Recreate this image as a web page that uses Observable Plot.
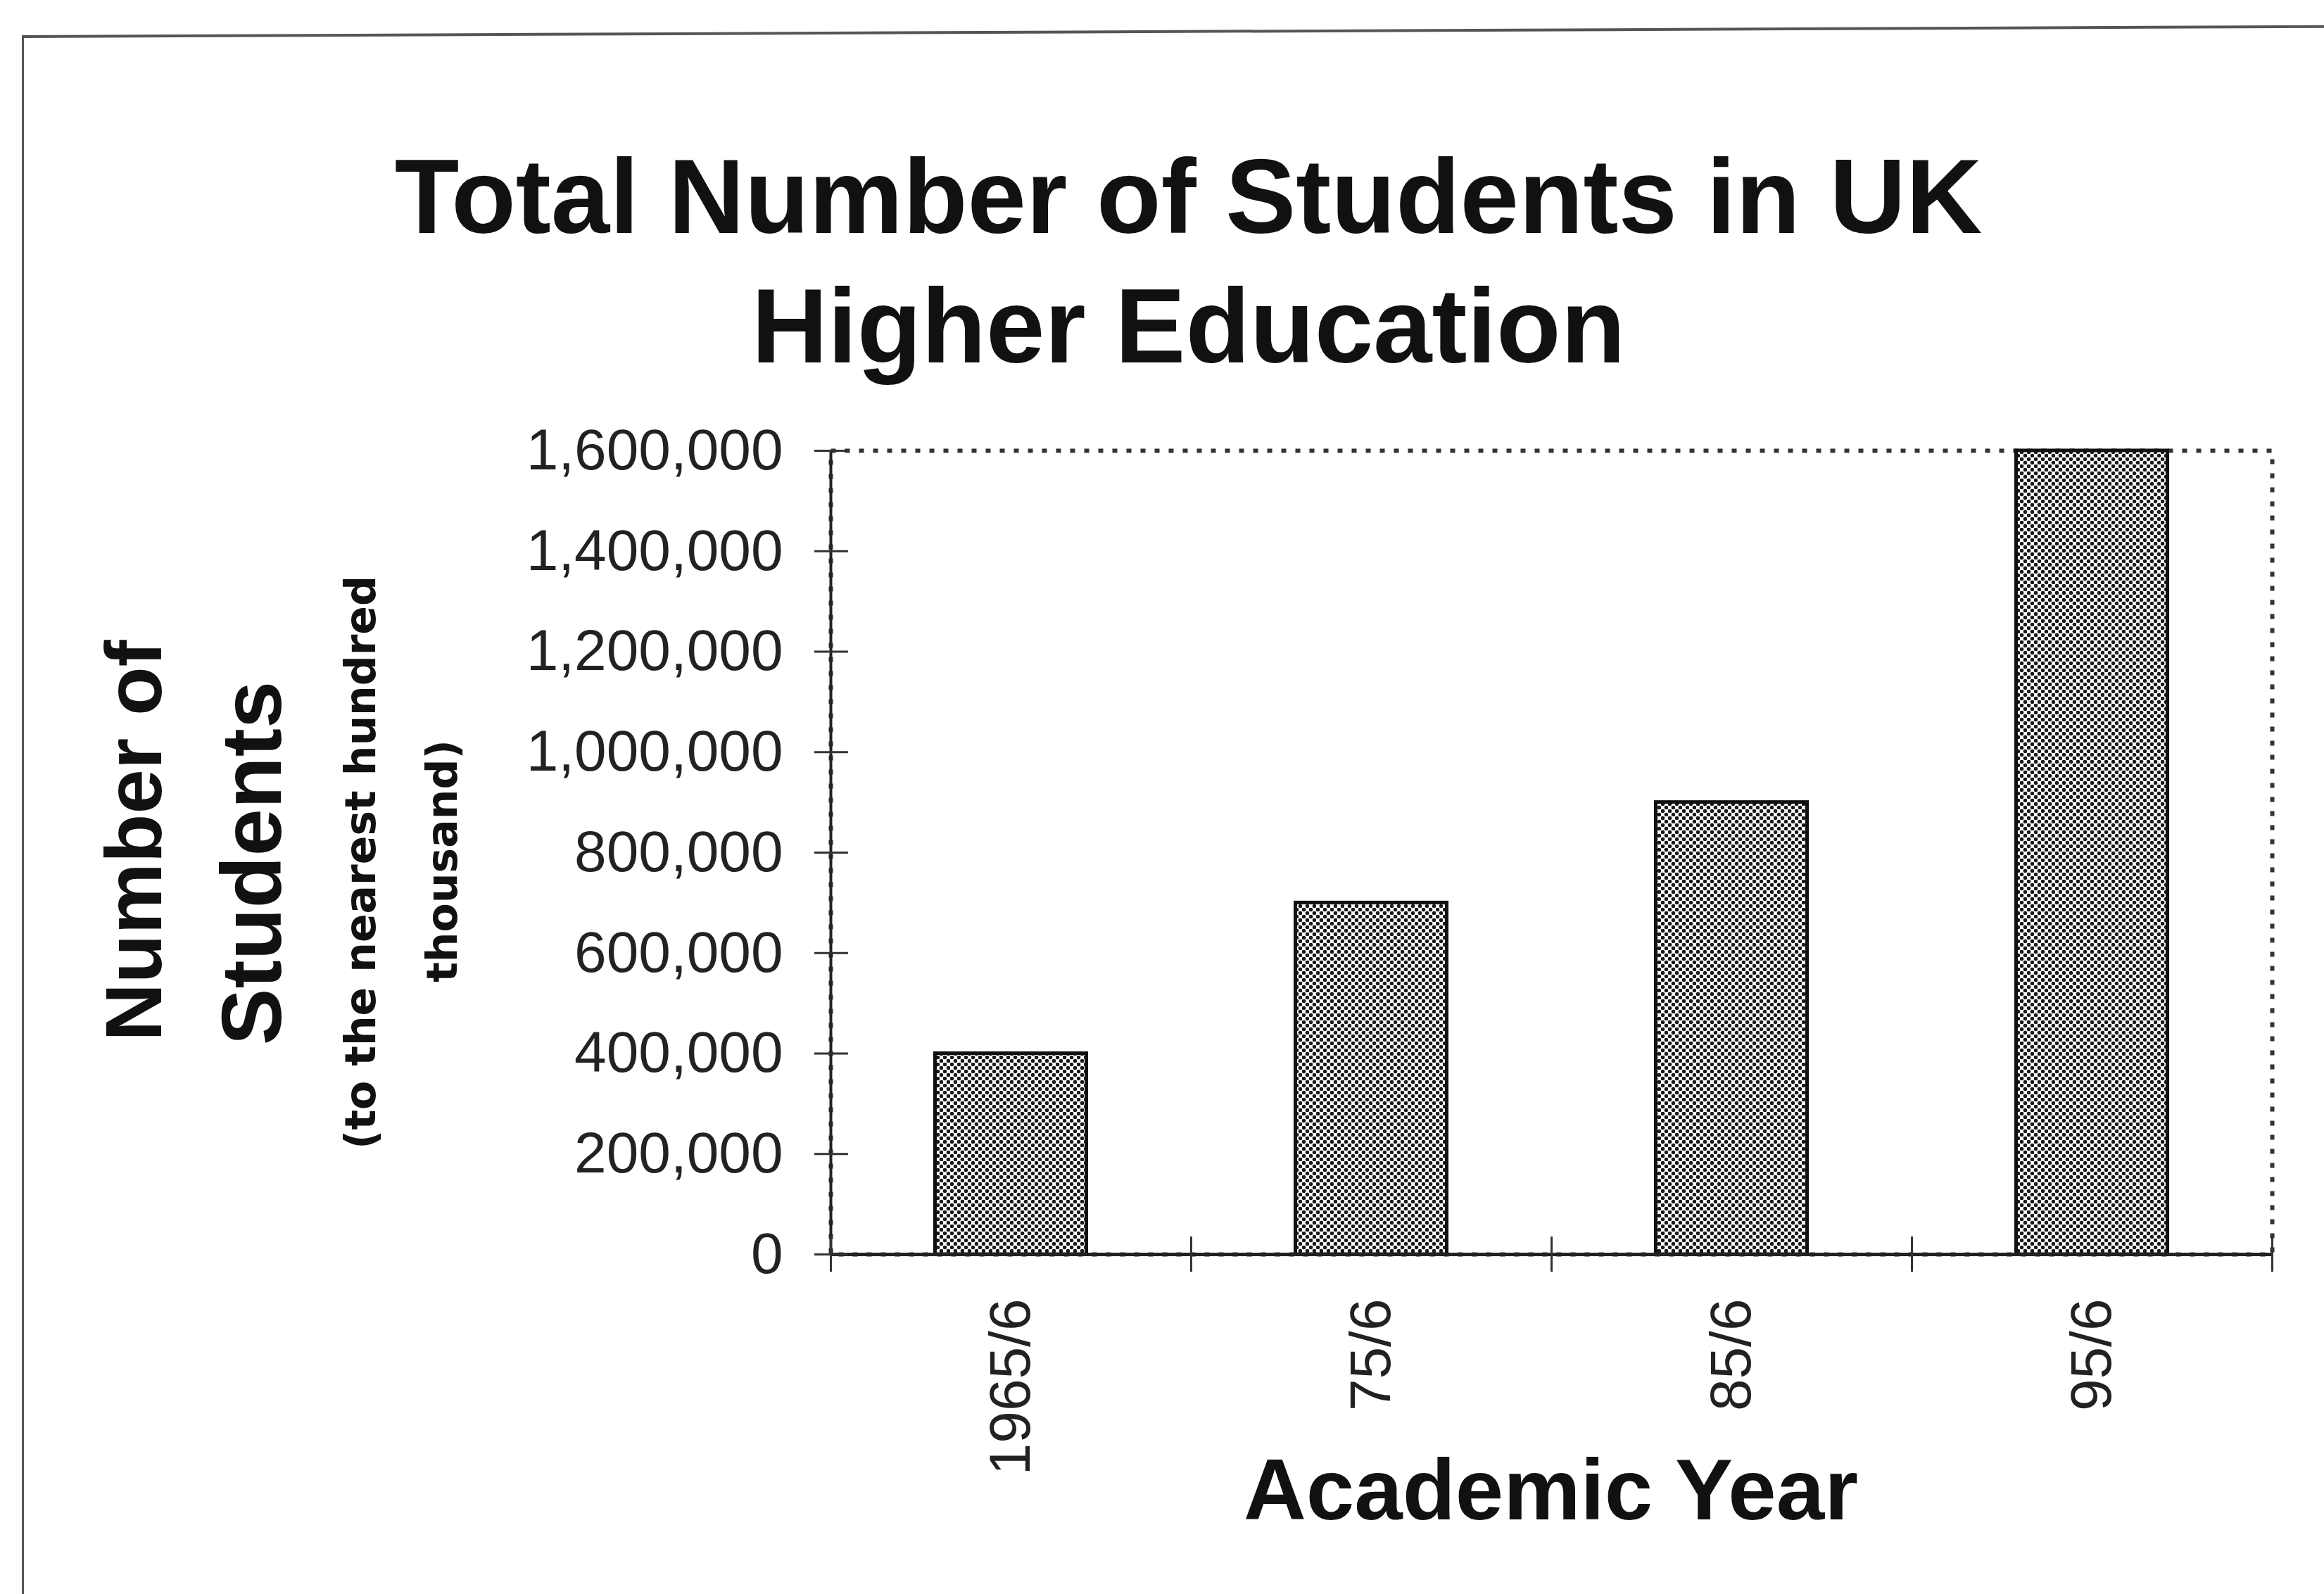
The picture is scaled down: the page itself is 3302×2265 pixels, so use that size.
<!DOCTYPE html>
<html>
<head>
<meta charset="utf-8">
<script src="https://cdn.jsdelivr.net/npm/d3@7"></script>
<script src="https://cdn.jsdelivr.net/npm/@observablehq/plot@0.6"></script>
<style>
  html, body { margin: 0; padding: 0; background: #fff; }
  #wrap { position: relative; width: 3302px; height: 2265px; overflow: hidden; background: #fff; }
  #wrap svg { position: absolute; left: 0; top: 0; }
  #topline { position: absolute; left: 31px; top: 50px; width: 3400px; height: 0; border-top: 4px solid #555; transform: rotate(-0.25deg); transform-origin: 0 0; }
  #leftline { position: absolute; left: 31px; top: 50px; width: 0; height: 2300px; border-left: 3px solid #555; }
</style>
</head>
<body>
<div id="wrap"></div>
<script>
// ---- data ----
const categories = ["1965/6", "75/6", "85/6", "95/6"];
const students = [400000, 700000, 900000, 1600000];
const yTicks = [0, 200000, 400000, 600000, 800000, 1000000, 1200000, 1400000, 1600000];
const titleLines = ["Total Number of Students in UK", "Higher Education"];
const yLabelLines = ["Number of", "Students"];
const yNoteLines = ["(to the nearest hundred", "thousand)"];
const xLabel = "Academic Year";

// ---- layout ----
const W = 3302, H = 2265;
const mL = 1180, mR = 74, mT = 640, mB = 483;
const at = (x, y) => ({frameAnchor: "top-left", dx: x - mL, dy: y - mT});

const data = categories.map((c, i) => ({category: c, i, value: students[i]}));
const boundaries = d3.range(categories.length + 1);

const boldFont = "'Liberation Sans', Arial, sans-serif";

const chart = Plot.plot({
  width: W,
  height: H,
  marginLeft: mL,
  marginRight: mR,
  marginTop: mT,
  marginBottom: mB,
  style: {fontFamily: "'Liberation Sans', Arial, sans-serif", fontSize: "82px", color: "#222", background: "transparent", overflow: "visible"},
  x: {type: "linear", domain: [0, categories.length]},
  y: {domain: [0, 1600000]},
  marks: [
    Plot.frame({stroke: "#333", strokeWidth: 6, strokeDasharray: "7,13"}),
    Plot.rectY(data, {x1: d => d.i + 0.29, x2: d => d.i + 0.71, y: "value", fill: "url(#dots)", stroke: "#111", strokeWidth: 5}),
    Plot.ruleY([0], {stroke: "#222", strokeWidth: 5}),
    Plot.ruleX([0], {stroke: "#222", strokeWidth: 4}),
    Plot.ruleY(yTicks, {y: d => d, x1: 0, x2: 0, insetLeft: -23, insetRight: -25, stroke: "#333", strokeWidth: 3}),
    Plot.ruleX(boundaries, {x: d => d, y1: 0, y2: 0, insetTop: -25, insetBottom: -25, stroke: "#333", strokeWidth: 3}),
    Plot.axisY({ticks: yTicks, tickSize: 0, tickPadding: 68, tickFormat: d3.format(","), label: null, fontSize: 82}),
    Plot.axisX({ticks: data.map(d => d.i + 0.5), tickSize: 0, tickPadding: 63, tickRotate: -90,
                tickFormat: v => categories[Math.floor(v)], label: null, fontSize: 82}),
    // title
    Plot.text([titleLines[0]], {text: d => d, ...at(1688, 330), textAnchor: "middle", lineAnchor: "bottom", fontSize: 150, fontWeight: "bold", fontFamily: boldFont, fill: "#111"}),
    Plot.text([titleLines[1]], {text: d => d, ...at(1688, 514), textAnchor: "middle", lineAnchor: "bottom", fontSize: 150, fontWeight: "bold", fontFamily: boldFont, fill: "#111"}),
    // y label
    Plot.text([yLabelLines[0]], {text: d => d, ...at(228, 1194), rotate: -90, textAnchor: "middle", lineAnchor: "bottom", fontSize: 114, fontWeight: "bold", fontFamily: boldFont, fill: "#111"}),
    Plot.text([yLabelLines[1]], {text: d => d, ...at(398, 1226), rotate: -90, textAnchor: "middle", lineAnchor: "bottom", fontSize: 121, fontWeight: "bold", fontFamily: boldFont, fill: "#111"}),
    Plot.text([yNoteLines[0]], {text: d => d, ...at(532, 1225), rotate: -90, textAnchor: "middle", lineAnchor: "bottom", fontSize: 60, fontWeight: "bold", fontFamily: "'DejaVu Sans', sans-serif", fill: "#111"}),
    Plot.text([yNoteLines[1]], {text: d => d, ...at(648, 1223), rotate: -90, textAnchor: "middle", lineAnchor: "bottom", fontSize: 60, fontWeight: "bold", fontFamily: "'DejaVu Sans', sans-serif", fill: "#111"}),
    // x label
    Plot.text([xLabel], {text: d => d, ...at(2203, 2158), textAnchor: "middle", lineAnchor: "bottom", fontSize: 123, fontWeight: "bold", fontFamily: boldFont, fill: "#111"})
  ]
});

// halftone dot pattern for the bars
const svgSel = d3.select(chart);
const defs = svgSel.insert("defs", ":first-child");
const pat = defs.append("pattern").attr("id", "dots").attr("patternUnits", "userSpaceOnUse").attr("width", 10).attr("height", 10);
pat.append("rect").attr("width", 10).attr("height", 10).attr("fill", "#fff");
pat.append("circle").attr("cx", 2.5).attr("cy", 2.5).attr("r", 2.8).attr("fill", "#1a1a1a");
pat.append("circle").attr("cx", 7.5).attr("cy", 7.5).attr("r", 2.8).attr("fill", "#1a1a1a");

const wrapEl = document.getElementById("wrap");
wrapEl.appendChild(chart);
const topLineEl = document.createElement("div"); topLineEl.id = "topline"; wrapEl.appendChild(topLineEl);
const leftLineEl = document.createElement("div"); leftLineEl.id = "leftline"; wrapEl.appendChild(leftLineEl);
</script>
</body>
</html>
